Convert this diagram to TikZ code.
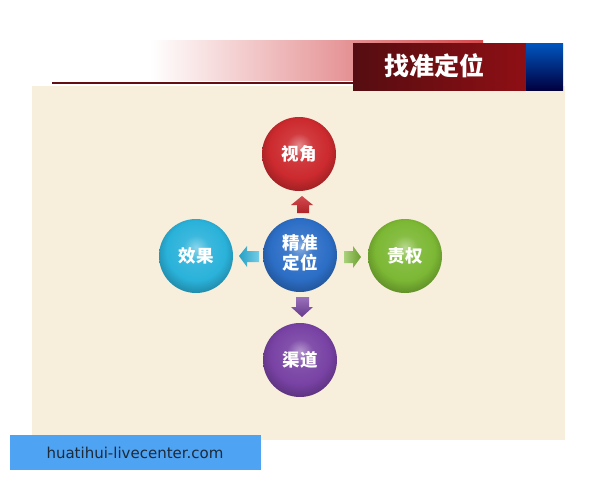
\documentclass[tikz,border=0pt]{standalone}
\usepackage{fontspec}
\newfontfamily\cjk{Noto Sans CJK SC}
\setsansfont{DejaVu Sans}
\definecolor{bg}{HTML}{F8EEDC}
\definecolor{cred}{HTML}{CC2A2E}
\definecolor{ccyan}{HTML}{2AB2DA}
\definecolor{cgreen}{HTML}{7CB834}
\definecolor{cpurple}{HTML}{7842A4}
\definecolor{cblue}{HTML}{2C6EC6}
\definecolor{banner}{HTML}{4EA3F2}
\definecolor{titlered}{HTML}{7A1218}
\definecolor{urltext}{HTML}{1C2A3A}
\colorlet{ballc}{red}
\pgfdeclareradialshading[ballc]{myball}{\pgfpoint{0bp}{6bp}}{%
  color(0bp)=(ballc!55!white); color(9bp)=(ballc!92!white); color(20bp)=(ballc);
  color(27bp)=(ballc!80!black); color(31bp)=(ballc!65!black); color(50bp)=(ballc!60!black)}
\tikzset{mycol/.code={\colorlet{ballc}{#1}}}
\begin{document}
\begin{tikzpicture}[x=1pt,y=-1pt,
  ballnode/.style={circle,minimum size=74pt,inner sep=0pt,text=white,
    font=\cjk\bfseries\fontsize{17.5}{20}\selectfont,
    mycol=#1,shading=myball},
  ]
\useasboundingbox (0,0) rectangle (600,480);
\fill[white] (0,0) rectangle (600,480);
% slide background
\fill[bg] (32,86) rectangle (565,440);
% top gradient bar
\shade[left color=white,right color=cred!85!white] (150,40) rectangle (483,80);
\draw[titlered!80!black,line width=1.3pt] (52,83) -- (353,83);
% title box
\shade[left color=titlered!70!black,right color=titlered!85!red] (353,43) rectangle (526,90);
\shade[top color=blue!55!cyan!75!black,bottom color=black!75!blue] (526,43) rectangle (563,90);
\node[text=white,font=\cjk\bfseries\fontsize{25}{28}\selectfont] (title) at (434,66) {找准定位};
% balls
\node[ballnode=cblue] (c) at (300,255) {\begin{tabular}{@{}c@{}}精准\\[-1pt]定位\end{tabular}};
\node[ballnode=cred] (t) at (299,154) {视角};
\node[ballnode=ccyan] (l) at (196,256) {效果};
\node[ballnode=cgreen] (r) at (405,256) {责权};
\node[ballnode=cpurple] (b) at (300,360) {渠道};
% block arrows
\shade[top color=cred!85!white,bottom color=cred!85!black]
  (302,196) -- (313,205) -- (309,205) -- (309,213) -- (297,213) -- (297,205) -- (291,205) -- cycle;
\shade[left color=ccyan!90!black,right color=ccyan!65!white]
  (239,256) -- (247,246) -- (247,251) -- (259,251) -- (259,262) -- (247,262) -- (247,267) -- cycle;
\shade[left color=cgreen!65!white,right color=cgreen!85!black]
  (361,257) -- (353,246) -- (353,251) -- (344,251) -- (344,263) -- (353,263) -- (353,268) -- cycle;
\shade[top color=cpurple!75!white,bottom color=cpurple!85!black]
  (302,317) -- (313,307) -- (309,307) -- (309,297) -- (296,297) -- (296,307) -- (291,307) -- cycle;
% banner
\fill[banner] (10,435) rectangle (261,470);
\node[text=urltext,font=\sffamily\fontsize{15}{17}\selectfont] (url) at (135,452.5) {huatihui-livecenter.com};
\end{tikzpicture}
\end{document}
